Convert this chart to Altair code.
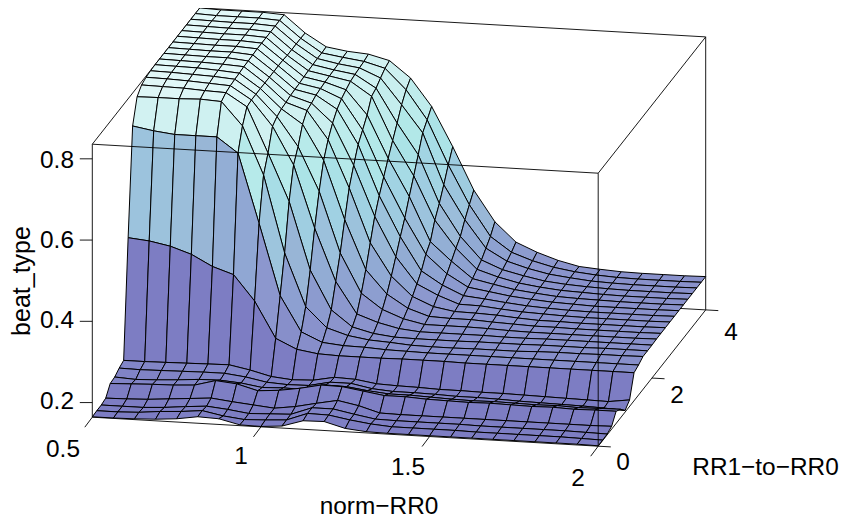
import altair as alt
import pandas as pd

BEAT = [
[.165,.165,.166,.168,.172,.180,.178,.166,.165,.169,.185,.186,.172,.167,.166,.166,.166,.166,.166,.166,.166,.166,.166,.166,.165],
[.166,.166,.168,.173,.176,.181,.171,.165,.167,.170,.189,.188,.179,.172,.168,.168,.168,.168,.167,.167,.167,.167,.167,.166,.165],
[.166,.166,.166,.169,.174,.178,.173,.166,.168,.170,.189,.189,.179,.170,.169,.169,.169,.169,.168,.168,.168,.168,.168,.167,.166],
[.169,.170,.172,.176,.180,.184,.178,.173,.168,.175,.186,.196,.186,.171,.170,.170,.170,.170,.170,.170,.170,.170,.170,.170,.171],
[.191,.193,.195,.196,.199,.213,.208,.194,.198,.206,.217,.216,.208,.200,.200,.197,.196,.195,.196,.195,.194,.195,.193,.194,.194],
[.193,.190,.192,.195,.199,.200,.196,.188,.190,.189,.203,.202,.195,.190,.190,.188,.186,.185,.186,.185,.184,.185,.183,.184,.185],
[.201,.200,.201,.202,.203,.203,.197,.187,.184,.185,.196,.196,.186,.182,.182,.181,.179,.179,.178,.176,.175,.174,.173,.171,.168],
[.206,.206,.207,.208,.209,.210,.200,.187,.182,.184,.194,.192,.184,.182,.181,.179,.179,.178,.178,.177,.176,.175,.174,.173,.180],
[.494,.489,.479,.462,.435,.418,.356,.267,.243,.235,.233,.233,.233,.234,.234,.234,.233,.233,.233,.233,.233,.233,.233,.233,.233],
[.755,.746,.740,.740,.740,.703,.533,.358,.272,.249,.244,.243,.240,.239,.238,.238,.238,.238,.238,.238,.238,.238,.238,.238,.238],
[.813,.814,.814,.816,.813,.756,.638,.449,.320,.271,.255,.247,.244,.240,.239,.239,.240,.240,.240,.242,.243,.243,.244,.244,.245],
[.828,.827,.826,.823,.821,.789,.678,.562,.396,.301,.262,.249,.243,.242,.242,.242,.243,.243,.243,.244,.244,.244,.245,.245,.245],
[.833,.832,.830,.827,.824,.792,.730,.638,.485,.357,.280,.262,.250,.245,.245,.245,.245,.244,.244,.245,.245,.245,.245,.245,.245],
[.835,.834,.832,.830,.826,.792,.740,.669,.562,.413,.317,.280,.260,.249,.249,.249,.248,.246,.245,.245,.245,.245,.245,.245,.246],
[.836,.835,.834,.831,.827,.792,.745,.710,.624,.481,.361,.304,.272,.255,.253,.253,.250,.248,.246,.246,.245,.245,.245,.245,.246],
[.836,.835,.834,.832,.829,.792,.747,.730,.661,.545,.413,.334,.287,.265,.256,.255,.253,.249,.246,.246,.245,.245,.245,.245,.246],
[.836,.835,.834,.834,.829,.792,.750,.734,.688,.587,.464,.368,.304,.279,.260,.259,.254,.250,.248,.246,.245,.245,.245,.245,.246],
[.836,.835,.834,.834,.830,.792,.751,.740,.708,.624,.501,.403,.322,.290,.267,.262,.256,.251,.248,.246,.245,.245,.245,.245,.246],
[.836,.835,.834,.834,.831,.792,.752,.742,.720,.646,.533,.435,.349,.304,.274,.266,.258,.253,.249,.247,.245,.245,.245,.245,.246],
[.836,.835,.834,.834,.831,.792,.754,.744,.728,.669,.565,.474,.366,.321,.281,.270,.260,.254,.249,.247,.246,.245,.245,.245,.246],
[.836,.835,.834,.834,.831,.790,.755,.745,.735,.701,.595,.511,.405,.339,.290,.274,.262,.255,.250,.248,.246,.245,.245,.245,.246],
[.836,.835,.834,.834,.831,.790,.756,.746,.738,.707,.624,.549,.432,.354,.299,.278,.266,.256,.251,.248,.246,.245,.245,.245,.246],
[.836,.835,.834,.834,.831,.790,.757,.747,.740,.718,.655,.589,.464,.381,.314,.285,.270,.259,.253,.248,.246,.245,.245,.245,.246],
[.836,.834,.834,.834,.831,.790,.757,.749,.742,.728,.678,.607,.499,.404,.329,.293,.275,.262,.254,.249,.246,.245,.245,.245,.246],
[.836,.834,.834,.834,.831,.789,.758,.750,.746,.733,.693,.626,.530,.426,.351,.304,.282,.265,.253,.249,.246,.245,.245,.245,.246],
]
Z_MIN, Z_MAX = 0.164, 0.836

X_TICKS = [0.5, 1, 1.5, 2]
X_LABELS = ["0.5", "1", "1.5", "2"]
Y_TICKS = [0, 2, 4]
Y_LABELS = ["0", "2", "4"]
Z_TICKS = [0.2, 0.4, 0.6, 0.8]
Z_LABELS = ["0.2", "0.4", "0.6", "0.8"]
X_RANGE, Y_RANGE = (0.5, 2.0), (0.0, 4.0)

OX, OY = 84.3, 409.2
EXX, EXY = 505.9, 29.0
EYX, EYY = 107.5, -136.3
EZY = -273.0

def project(x, y, z):
    u = (x - X_RANGE[0]) / (X_RANGE[1] - X_RANGE[0])
    v = (y - Y_RANGE[0]) / (Y_RANGE[1] - Y_RANGE[0])
    w = (z - Z_MIN) / (Z_MAX - Z_MIN)
    return OX + u * EXX + v * EYX, OY + u * EXY + v * EYY + w * EZY

ny, nx = len(BEAT), len(BEAT[0])
xs = [X_RANGE[0] + (X_RANGE[1] - X_RANGE[0]) * i / (nx - 1) for i in range(nx)]
ys = [Y_RANGE[0] + (Y_RANGE[1] - Y_RANGE[0]) * j / (ny - 1) for j in range(ny)]

rows = []
for j in range(ny - 2, -1, -1):
    for i in range(nx - 1):
        c = [(i, j), (i + 1, j), (i + 1, j + 1), (i, j + 1), (i, j)]
        zs = [BEAT[b][a] for a, b in c[:4]]
        t = (sum(zs) / 4 - Z_MIN) / (Z_MAX - Z_MIN)
        slope = ((zs[2] + zs[3]) - (zs[0] + zs[1])) / 2 / (Z_MAX - Z_MIN)
        tone = max(0.0, t - 0.82 * max(0.0, slope))
        for k, (a, b) in enumerate(c):
            px, py = project(xs[a], ys[b], BEAT[b][a])
            rows.append(dict(quad=f"{j:02d}_{i:02d}", vtx=k, px=px, py=py, tone=tone))
surface = pd.DataFrame(rows)

def edge_frame(edges):
    out = []
    for n, (p, q) in enumerate(edges):
        for k, e in enumerate((p, q)):
            px, py = project(*e)
            out.append(dict(edge=n, vtx=k, px=px, py=py))
    return pd.DataFrame(out)

x0, x1 = X_RANGE
y0, y1 = Y_RANGE
back = edge_frame([
    ((x0, y1, Z_MIN), (x0, y1, Z_MAX)), ((x0, y0, Z_MIN), (x0, y1, Z_MIN)),
    ((x0, y1, Z_MIN), (x1, y1, Z_MIN)), ((x0, y1, Z_MAX), (x1, y1, Z_MAX)),
    ((x1, y1, Z_MIN), (x1, y1, Z_MAX)), ((x0, y0, Z_MAX), (x0, y1, Z_MAX)),
])
front = edge_frame([
    ((x0, y0, Z_MAX), (x1, y0, Z_MAX)), ((x1, y0, Z_MAX), (x1, y1, Z_MAX)),
    ((x0, y0, Z_MIN), (x0, y0, Z_MAX)), ((x1, y0, Z_MIN), (x1, y0, Z_MAX)),
    ((x0, y0, Z_MIN), (x1, y0, Z_MIN)), ((x1, y0, Z_MIN), (x1, y1, Z_MIN)),
])

tick_rows = []
n = 0
for v in X_TICKS:
    a, b = project(v, y0, Z_MIN)
    tick_rows += [dict(edge=n, vtx=0, px=a, py=b), dict(edge=n, vtx=1, px=a - 7.5, py=b + 10)]
    n += 1
for v in Y_TICKS:
    a, b = project(x1, v, Z_MIN)
    tick_rows += [dict(edge=n, vtx=0, px=a, py=b), dict(edge=n, vtx=1, px=a + 12.6, py=b + 0.7)]
    n += 1
for v in Z_TICKS:
    a, b = project(x0, y0, v)
    tick_rows += [dict(edge=n, vtx=0, px=a, py=b), dict(edge=n, vtx=1, px=a - 12.5, py=b)]
    n += 1
ticks = pd.DataFrame(tick_rows)

labels = pd.DataFrame(
    [dict(t=l, px=a, py=b) for l, a, b in zip(X_LABELS, [55, 233, 400, 570], [442, 449, 460, 471])]
    + [dict(t=l, px=a, py=b) for l, a, b in zip(Y_LABELS, [615, 669, 723], [455, 388, 325])]
    + [dict(t=l, px=a, py=b) for l, a, b in zip(Z_LABELS, [49, 49, 49, 49], [394, 313, 233, 153])]
    + [dict(t="norm\u2212RR0", px=371, py=499), dict(t="RR1\u2212to\u2212RR0", px=757.5, py=460)]
)
ztitle = pd.DataFrame([dict(t="beat_type", px=14, py=273)])

W, H_PX = 832, 513
sx = alt.Scale(domain=[0, W], range=[0, W], nice=False, zero=False)
sy = alt.Scale(domain=[H_PX, 0], nice=False, zero=False)
X = alt.X("px:Q", scale=sx, axis=None)
Y = alt.Y("py:Q", scale=sy, axis=None)

def wires(df):
    return alt.Chart(df).mark_line(color="black", strokeWidth=0.9).encode(
        x=X, y=Y, detail="edge:N", order="vtx:Q")

mesh = alt.Chart(surface).mark_line(
    filled=True, stroke="black", strokeWidth=1.0, strokeJoin="round"
).encode(
    x=X, y=Y, detail="quad:N", order="vtx:Q",
    color=alt.Color("tone:Q", legend=None, scale=alt.Scale(
        domain=[0, 0.15, 0.3, 0.6, 0.8, 1.0],
        range=["#7d7dc3", "#8c96cd", "#9bb9d7", "#b0e8e8", "#cdf0f0", "#e2f8f8"])),
)
text = alt.Chart(labels).mark_text(font="Liberation Sans", fontSize=24.4, color="black").encode(
    x=X, y=Y, text="t:N")
ytitle = alt.Chart(ztitle).mark_text(font="Liberation Sans", fontSize=25, color="black", angle=270).encode(
    x=X, y=Y, text="t:N")

chart = alt.layer(wires(back), mesh, wires(front), wires(ticks), text, ytitle).properties(
    width=W, height=H_PX, padding=0, autosize="none"
).configure_view(stroke=None)
chart.save("out.html", embed_options={"renderer": "svg", "actions": False})
